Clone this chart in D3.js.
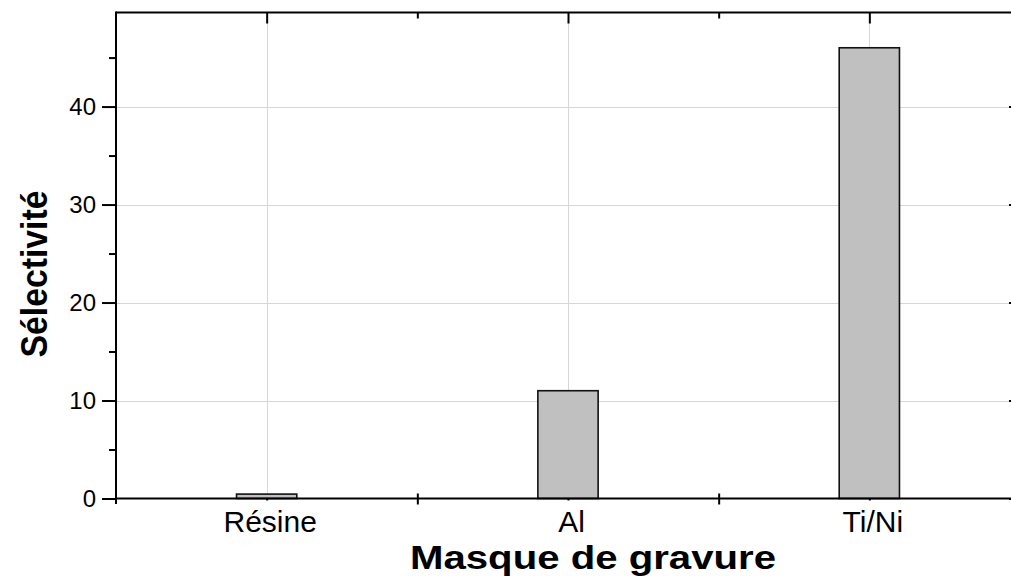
<!DOCTYPE html>
<html>
<head>
<meta charset="utf-8">
<script src="https://cdn.jsdelivr.net/npm/d3@7"></script>
<style>
  html, body { margin: 0; padding: 0; background: #fff; }
  svg { display: block; font-family: "Liberation Sans", Arial, sans-serif; }
</style>
</head>
<body>
<svg id="chart" width="1011" height="576"></svg>
<script>
// ---- data ----
const categories = ["Résine", "Al", "Ti/Ni"];
const selectivity = [0.45, 11, 46];
const yMajorTicks = [0, 10, 20, 30, 40];
const yMinorTicks = [5, 15, 25, 35, 45];
const xTitle = "Masque de gravure";
const yTitle = "Sélectivité";

(function () {
// ---- layout ----
const pLeft = 116, pRight = 1020, pTop = 12.5, pBottom = 498.5;
const svg = d3.select("#chart");

const x = d3.scaleLinear().domain([0.5, categories.length + 0.5]).range([pLeft, pRight]);
const y = d3.scaleLinear().domain([0, 49.6]).range([pBottom, pTop]);
const catPos = categories.map((c, i) => i + 1);
const betweenPos = d3.range(0.5, categories.length + 1, 1);
const barW = (x(2) - x(1)) * 0.2;

// gridlines
const grid = svg.append("g").attr("stroke", "#d6d6d6").attr("stroke-width", 1);
grid.selectAll("line.h").data(yMajorTicks.filter(d => d > 0)).join("line")
  .attr("x1", pLeft).attr("x2", pRight)
  .attr("y1", d => Math.round(y(d)) + 0.5).attr("y2", d => Math.round(y(d)) + 0.5);
grid.selectAll("line.v").data(catPos).join("line")
  .attr("y1", pTop).attr("y2", pBottom)
  .attr("x1", d => Math.round(x(d)) + 0.5).attr("x2", d => Math.round(x(d)) + 0.5);

// bars
svg.append("g").selectAll("rect").data(selectivity).join("rect")
  .attr("x", (d, i) => x(catPos[i]) - barW / 2)
  .attr("width", barW)
  .attr("y", d => y(d))
  .attr("height", d => pBottom - y(d))
  .attr("fill", "#c0c0c0")
  .attr("stroke", "#111")
  .attr("stroke-width", 1.6);

// axes
const axStroke = "#000";
const yAxisL = svg.append("g").attr("transform", `translate(${pLeft},0)`)
  .call(d3.axisLeft(y).tickValues(yMajorTicks).tickSize(14).tickPadding(6).tickFormat(d3.format("d")));
const yAxisLm = svg.append("g").attr("transform", `translate(${pLeft},0)`)
  .call(d3.axisLeft(y).tickValues(yMinorTicks).tickSize(7).tickFormat(""));
const yAxisR = svg.append("g").attr("transform", `translate(${pRight},0)`)
  .call(d3.axisLeft(y).tickValues(yMajorTicks).tickSize(11).tickFormat(""));
const yAxisRm = svg.append("g").attr("transform", `translate(${pRight},0)`)
  .call(d3.axisLeft(y).tickValues(yMinorTicks).tickSize(6).tickFormat(""));
const xAxisB = svg.append("g").attr("transform", `translate(0,${pBottom})`)
  .call(d3.axisBottom(x).tickValues(catPos).tickSize(2).tickPadding(10)
    .tickFormat((d) => categories[d - 1]));
const xAxisBm = svg.append("g").attr("transform", `translate(0,${pBottom - 5})`)
  .call(d3.axisBottom(x).tickValues(betweenPos.slice(1)).tickSize(11).tickFormat(""));
const xAxisT = svg.append("g").attr("transform", `translate(0,${pTop})`)
  .call(d3.axisBottom(x).tickValues(catPos).tickSize(11).tickFormat(""));
const xAxisTm = svg.append("g").attr("transform", `translate(0,${pTop})`)
  .call(d3.axisBottom(x).tickValues(betweenPos.slice(1)).tickSize(6).tickFormat(""));

[yAxisL, yAxisLm, yAxisR, yAxisRm, xAxisB, xAxisBm, xAxisT, xAxisTm].forEach(g => {
  g.selectAll(".domain").remove();
  g.selectAll(".tick line").attr("stroke", axStroke).attr("stroke-width", 2);
});
yAxisL.selectAll(".tick text").attr("font-size", 24).attr("fill", "#000")
  .attr("font-family", "Liberation Sans, Arial, sans-serif");
xAxisB.selectAll(".tick text").attr("font-size", 30).attr("fill", "#000")
  .attr("font-family", "Liberation Sans, Arial, sans-serif")
  .attr("dx", 3);

// frame lines
const frame = svg.append("g").attr("stroke", axStroke).attr("stroke-width", 2).attr("fill", "none");
frame.append("line").attr("x1", pLeft).attr("x2", pLeft).attr("y1", pTop - 1).attr("y2", pBottom + 5.5);
frame.append("line").attr("x1", pLeft).attr("x2", pRight).attr("y1", pTop).attr("y2", pTop);
frame.append("line").attr("x1", pLeft).attr("x2", pRight).attr("y1", pBottom).attr("y2", pBottom);
frame.append("line").attr("x1", pRight).attr("x2", pRight).attr("y1", pTop).attr("y2", pBottom);

// axis titles
svg.append("text")
  .attr("x", 593).attr("y", 569)
  .attr("text-anchor", "middle")
  .attr("font-size", 33).attr("font-weight", "bold")
  .attr("textLength", 366).attr("lengthAdjust", "spacingAndGlyphs")
  .text(xTitle);
svg.append("text")
  .attr("transform", `translate(47,274) rotate(-90)`)
  .attr("text-anchor", "middle")
  .attr("font-size", 36).attr("font-weight", "bold")
  .attr("textLength", 167).attr("lengthAdjust", "spacingAndGlyphs")
  .text(yTitle);
})();
</script>
</body>
</html>
